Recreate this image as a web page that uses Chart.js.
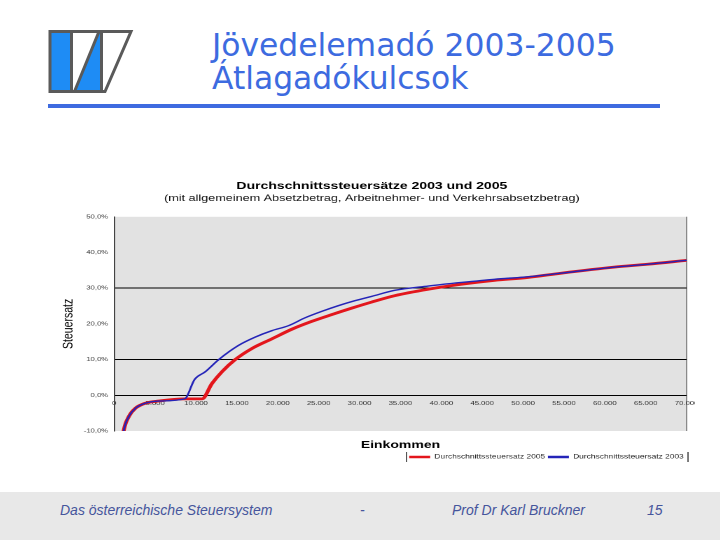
<!DOCTYPE html>
<html>
<head>
<meta charset="utf-8">
<script src="https://cdn.jsdelivr.net/npm/chart.js@4.4.0/dist/chart.umd.min.js"></script>
<style>
  body { margin: 0; background: #fff; }
  #slide { position: relative; width: 720px; height: 540px; overflow: hidden; background: #fff; }
  #logo { position: absolute; left: 0; top: 0; }
  #heading { position: absolute; left: 212px; top: 29px; margin: 0; font: 31.4px/33px "DejaVu Sans", Verdana, sans-serif; color: #3d6be0; font-weight: normal; white-space: nowrap; }
  #rule { position: absolute; left: 48px; top: 104px; width: 612px; height: 4px; background: #3e6be0; }
  #chart { position: absolute; left: 55px; top: 172px; }
  #footer { position: absolute; left: 0; top: 492px; width: 720px; height: 48px; background: #e8e8e8; }
  #footer span { position: absolute; top: 10px; font: italic 14px/16px "Liberation Sans", Arial, sans-serif; color: #45559c; white-space: nowrap; }
</style>
</head>
<body>
<div id="slide">
  <svg id="logo" width="140" height="100">
    <polygon points="50,31.5 131,31.5 105,91.5 50,91.5" fill="#fff"/>
    <rect x="50" y="31.5" width="21.5" height="60" fill="#1e8cf5"/>
    <polygon points="99,31.5 101.5,31.5 101.5,91.5 74.5,91.5" fill="#1e8cf5"/>
    <g stroke="#5a5a5a" stroke-width="3" fill="none">
      <line x1="71.5" y1="31.5" x2="71.5" y2="91.5"/>
      <line x1="99" y1="31.5" x2="74.5" y2="91.5"/>
      <line x1="101.5" y1="31.5" x2="101.5" y2="91.5"/>
      <polygon points="50,31.5 131,31.5 105,91.5 50,91.5"/>
    </g>
  </svg>
  <h1 id="heading">Jövedelemadó 2003-2005<br>Átlagadókulcsok</h1>
  <div id="rule"></div>
  <canvas id="chart" width="457" height="298" style="width:640px;height:298px"></canvas>
  <div id="footer">
    <span style="left:60px">Das österreichische Steuersystem</span>
    <span style="left:360px">-</span>
    <span style="left:452px">Prof Dr Karl Bruckner</span>
    <span style="left:647px">15</span>
  </div>
</div>
<script>
// Einkommen (EUR) und Durchschnittssteuersatz (%)
const incomes2003 = [1000, 1180, 1790, 2600, 3820, 5450, 8600, 9840, 11130, 12770, 15210, 17230, 19270, 21300, 23330, 25370, 27400, 29430, 31460, 34300, 38380, 42440, 46500, 50570, 54630, 61130, 65200, 70000];
const rates2003 = [-12.5, -9.6, -5.9, -3.6, -2.2, -1.6, -1.0, 4.5, 6.6, 10.0, 14.0, 16.3, 18.1, 19.5, 21.7, 23.5, 25.1, 26.5, 27.7, 29.4, 30.6, 31.6, 32.5, 33.2, 34.2, 35.9, 36.7, 37.8];

const incomes2005 = [1000, 1180, 1790, 2600, 3820, 5450, 8600, 10730, 11950, 13170, 14790, 16830, 19270, 21710, 24150, 26590, 29020, 31460, 34300, 38380, 42440, 46500, 50570, 54630, 61130, 65200, 70000];
const rates2005 = [-12.5, -9.6, -5.9, -3.6, -2.2, -1.6, -1.0, -1.0, 3.3, 6.6, 10.0, 13.1, 15.8, 18.5, 20.7, 22.6, 24.4, 26.1, 27.9, 29.7, 31.1, 32.2, 33.0, 34.2, 35.9, 36.7, 37.8];

const seriesLabels = ['Durchschnittssteuersatz 2003', 'Durchschnittssteuersatz 2005'];
const gridValues = [0, 10, 30];

const toPoints = (xs, ys) => xs.map((x, i) => ({ x: x, y: ys[i] }));
const thousands = v => String(v).replace(/\B(?=(\d{3})+(?!\d))/g, '.');

Chart.defaults.font.family = '"Liberation Sans", Arial, sans-serif';

const plotBackground = {
  id: 'plotBackground',
  beforeDraw(chart) {
    const { ctx, chartArea: a } = chart;
    ctx.save();
    ctx.fillStyle = '#e2e2e2';
    ctx.fillRect(a.left, a.top, a.right - a.left, a.bottom - a.top);
    ctx.strokeStyle = '#8a8a8a';
    ctx.lineWidth = 1;
    ctx.beginPath();
    ctx.moveTo(a.right, a.top);
    ctx.lineTo(a.right, a.bottom);
    ctx.stroke();
    ctx.restore();
  }
};

const legendFrame = {
  id: 'legendFrame',
  afterDraw(chart) {
    const boxes = chart.legend && chart.legend.legendHitBoxes;
    if (!boxes || !boxes.length) return;
    const left = Math.min(...boxes.map(b => b.left)) - 2;
    const right = Math.max(...boxes.map(b => b.left + b.width)) + 3;
    const top = boxes[0].top - 2;
    const bottom = boxes[0].top + boxes[0].height + 2;
    const ctx = chart.ctx;
    ctx.save();
    ctx.strokeStyle = '#333';
    ctx.lineWidth = 0.8;
    ctx.beginPath();
    ctx.moveTo(left, top); ctx.lineTo(left, bottom);
    ctx.moveTo(right, top); ctx.lineTo(right, bottom);
    ctx.stroke();
    ctx.restore();
  }
};

new Chart(document.getElementById('chart'), {
  type: 'line',
  data: {
    datasets: [{
      label: seriesLabels[0],
      data: toPoints(incomes2003, rates2003),
      borderColor: '#2424b8',
      backgroundColor: '#2424b8',
      borderWidth: 1.4,
      pointRadius: 0,
      cubicInterpolationMode: 'monotone'
    }, {
      label: seriesLabels[1],
      data: toPoints(incomes2005, rates2005),
      borderColor: '#e3161c',
      backgroundColor: '#e3161c',
      borderWidth: 2.8,
      pointRadius: 0,
      cubicInterpolationMode: 'monotone'
    }]
  },
  options: {
    responsive: false,
    animation: false,
    devicePixelRatio: 2,
    layout: { padding: { left: 1.5, right: 6 } },
    scales: {
      x: {
        type: 'linear',
        position: { y: 0 },
        min: 0,
        max: 70000,
        grid: { display: false, drawTicks: false },
        border: { display: false },
        afterFit: scale => { scale.paddingLeft = 0; scale.paddingRight = 0; },
        ticks: {
          stepSize: 5000,
          autoSkip: false,
          maxRotation: 0,
          padding: 5,
          color: '#333',
          font: { size: 5.5 },
          callback: v => thousands(v)
        }
      },
      x2: {
        type: 'linear',
        position: 'bottom',
        min: 0,
        max: 70000,
        grid: { display: false, drawTicks: false },
        border: { display: false },
        ticks: { display: false },
        title: {
          display: true,
          text: 'Einkommen',
          color: '#000',
          font: { size: 10, weight: 'bold' },
          padding: { top: 8, bottom: 1 }
        }
      },
      y: {
        min: -10,
        max: 50,
        grid: {
          drawTicks: false,
          lineWidth: 1,
          color: c => gridValues.includes(c.tick.value) ? '#000' : 'rgba(0,0,0,0)'
        },
        border: { display: true, color: '#444', width: 1 },
        ticks: {
          stepSize: 10,
          padding: 4.4,
          color: '#333',
          font: { size: 5.5 },
          callback: v => v.toFixed(1).replace('.', ',') + '%'
        },
        title: {
          display: true,
          text: 'Steuersatz',
          color: '#000',
          font: { size: 10.5 },
          padding: { top: 2, bottom: 0 }
        }
      }
    },
    plugins: {
      title: {
        display: true,
        text: 'Durchschnittssteuersätze 2003 und 2005',
        color: '#000',
        font: { size: 10, weight: 'bold' },
        padding: { top: 8, bottom: 0 }
      },
      subtitle: {
        display: true,
        text: '(mit allgemeinem Absetzbetrag, Arbeitnehmer- und Verkehrsabsetzbetrag)',
        color: '#111',
        font: { size: 9 },
        padding: { top: 1, bottom: 13 }
      },
      legend: {
        position: 'bottom',
        align: 'end',
        reverse: true,
        labels: {
          boxWidth: 15,
          boxHeight: 2.5,
          padding: 2,
          color: '#222',
          font: { size: 6.0 },
          generateLabels: chart => Chart.defaults.plugins.legend.labels.generateLabels(chart)
            .map(item => Object.assign(item, { lineWidth: 0 }))
        }
      },
      tooltip: { enabled: false }
    }
  },
  plugins: [plotBackground, legendFrame]
});
</script>
</body>
</html>
